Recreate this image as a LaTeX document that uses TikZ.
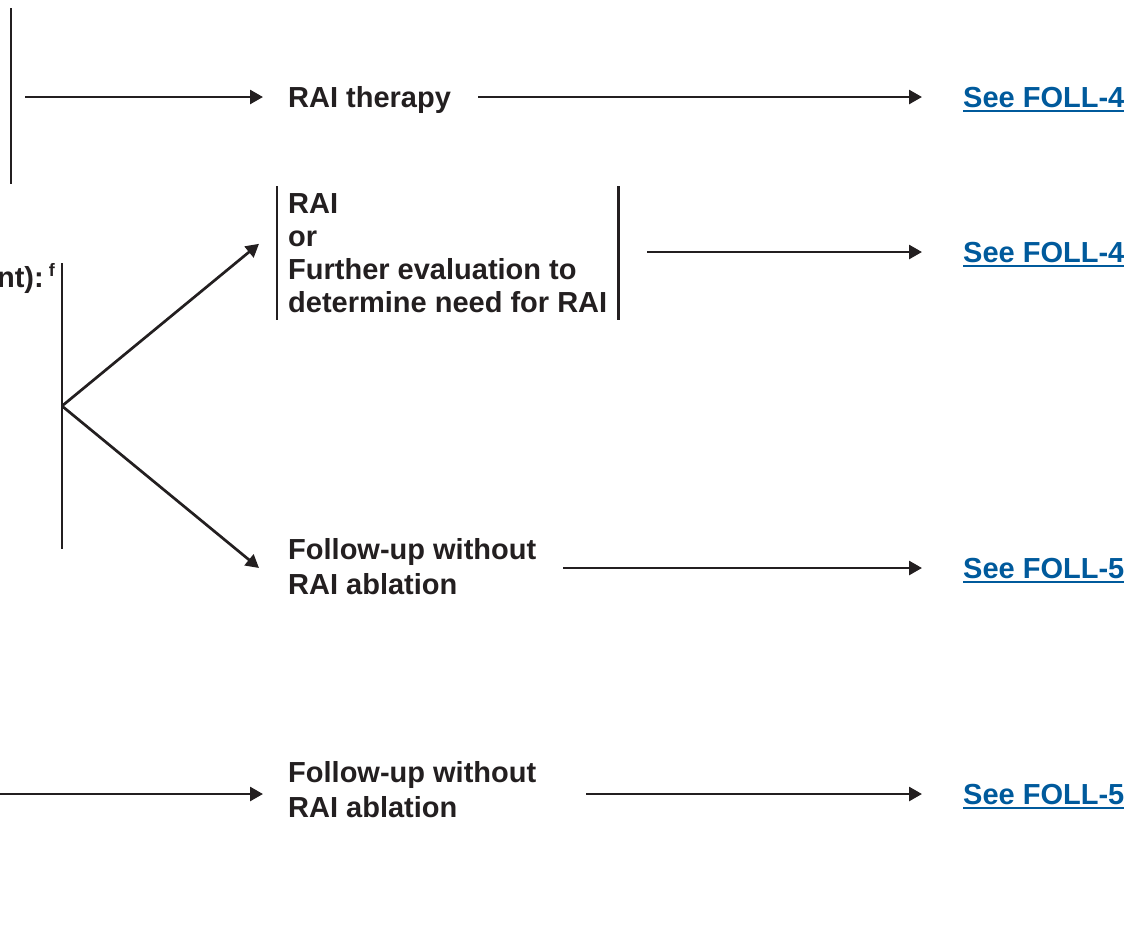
\documentclass[tikz,border=0pt]{standalone}
\usepackage{fontspec}
\setmainfont{Liberation Sans}
\usetikzlibrary{arrows.meta}
\definecolor{ink}{HTML}{231F20}
\definecolor{linkblue}{HTML}{005A9C}
\newcommand{\seelink}[1]{\setbox0=\hbox{#1}\rlap{\rule[-4.6pt]{\wd0}{2.2pt}}\box0}
\begin{document}
\begin{tikzpicture}[x=1pt,y=-1pt,
  txt/.style={font=\fontsize{29}{33}\selectfont\bfseries, text=ink, inner sep=0pt, align=left},
  one/.style={text height=21pt, text depth=0pt},
  link/.style={font=\fontsize{29}{33}\selectfont\bfseries, text=linkblue, inner sep=0pt, text height=21pt, text depth=0pt},
  conn/.style={draw=ink, line width=2.7pt, -{Triangle[length=13pt,width=14pt]}},
  bar/.style={draw=ink, line width=2.7pt}]
\useasboundingbox (0,0) rectangle (1128,930);

% row 1
\coordinate (b1top) at (11,8);
\coordinate (b1bot) at (11,184);
\coordinate (b1) at (11,97);
\node[txt, one, anchor=west] (rai) at (288,97) {RAI therapy};
\node[link, anchor=west] (l1) at (963,97) {\seelink{See FOLL-4}};
\draw[bar] (b1top) -- (b1bot);
\draw[conn] ([xshift=14pt]b1) -- ([xshift=-25pt]rai.west);
\draw[conn] ([xshift=27pt]rai.east) -- ([xshift=-41pt]rai.east -| l1.west);

% row 2
\node[txt, anchor=base east] (crit) at (55,287) {nt):\hspace{5pt}\raisebox{11pt}{\fontsize{18}{18}\selectfont f}};
\coordinate (b2top) at (62,263);
\coordinate (b2bot) at (62,549);
\coordinate (fork) at (62,406);
\draw[bar] (b2top) -- (b2bot);

\node[txt, anchor=north west] (opt) at (288,193)
  {RAI\\or\\Further evaluation to\\determine need for RAI};
\coordinate (optL1) at ([xshift=-11pt,yshift=7pt]opt.north west);
\coordinate (optL2) at ([xshift=-11pt,yshift=-7.5pt]opt.south west);
\coordinate (optR1) at ([xshift=11pt,yshift=7pt]opt.north east);
\coordinate (optR2) at ([xshift=11pt,yshift=-7.5pt]opt.south east);
\draw[bar] (optL1) -- (optL2);
\draw[bar] (optR1) -- (optR2);
\node[link, anchor=west] (l2) at (963,252) {\seelink{See FOLL-4}};
\draw[conn] (fork) -- ([xshift=-29pt,yshift=9pt]opt.west);
\draw[conn] ([xshift=40pt]opt.east |- l2.west) -- ([xshift=-41pt]l2.west);

% row 3
\node[txt, anchor=west] (fu1) at (288,567) {Follow-up without\\[2pt]RAI ablation};
\node[link, anchor=west] (l3) at (963,568) {\seelink{See FOLL-5}};
\draw[conn] (fork) -- ([xshift=-29pt]fu1.west |- l3.west);
\draw[conn] ([xshift=27pt]fu1.east |- l3.west) -- ([xshift=-41pt]l3.west);

% row 4
\coordinate (s4) at (0,794);
\node[txt, anchor=west] (fu2) at (288,790) {Follow-up without\\[2pt]RAI ablation};
\node[link, anchor=west] (l4) at (963,794) {\seelink{See FOLL-5}};
\draw[conn] (s4) -- ([xshift=-25pt]fu2.west |- l4.west);
\draw[conn] ([xshift=50pt]fu2.east |- l4.west) -- ([xshift=-41pt]l4.west);
\end{tikzpicture}
\end{document}
